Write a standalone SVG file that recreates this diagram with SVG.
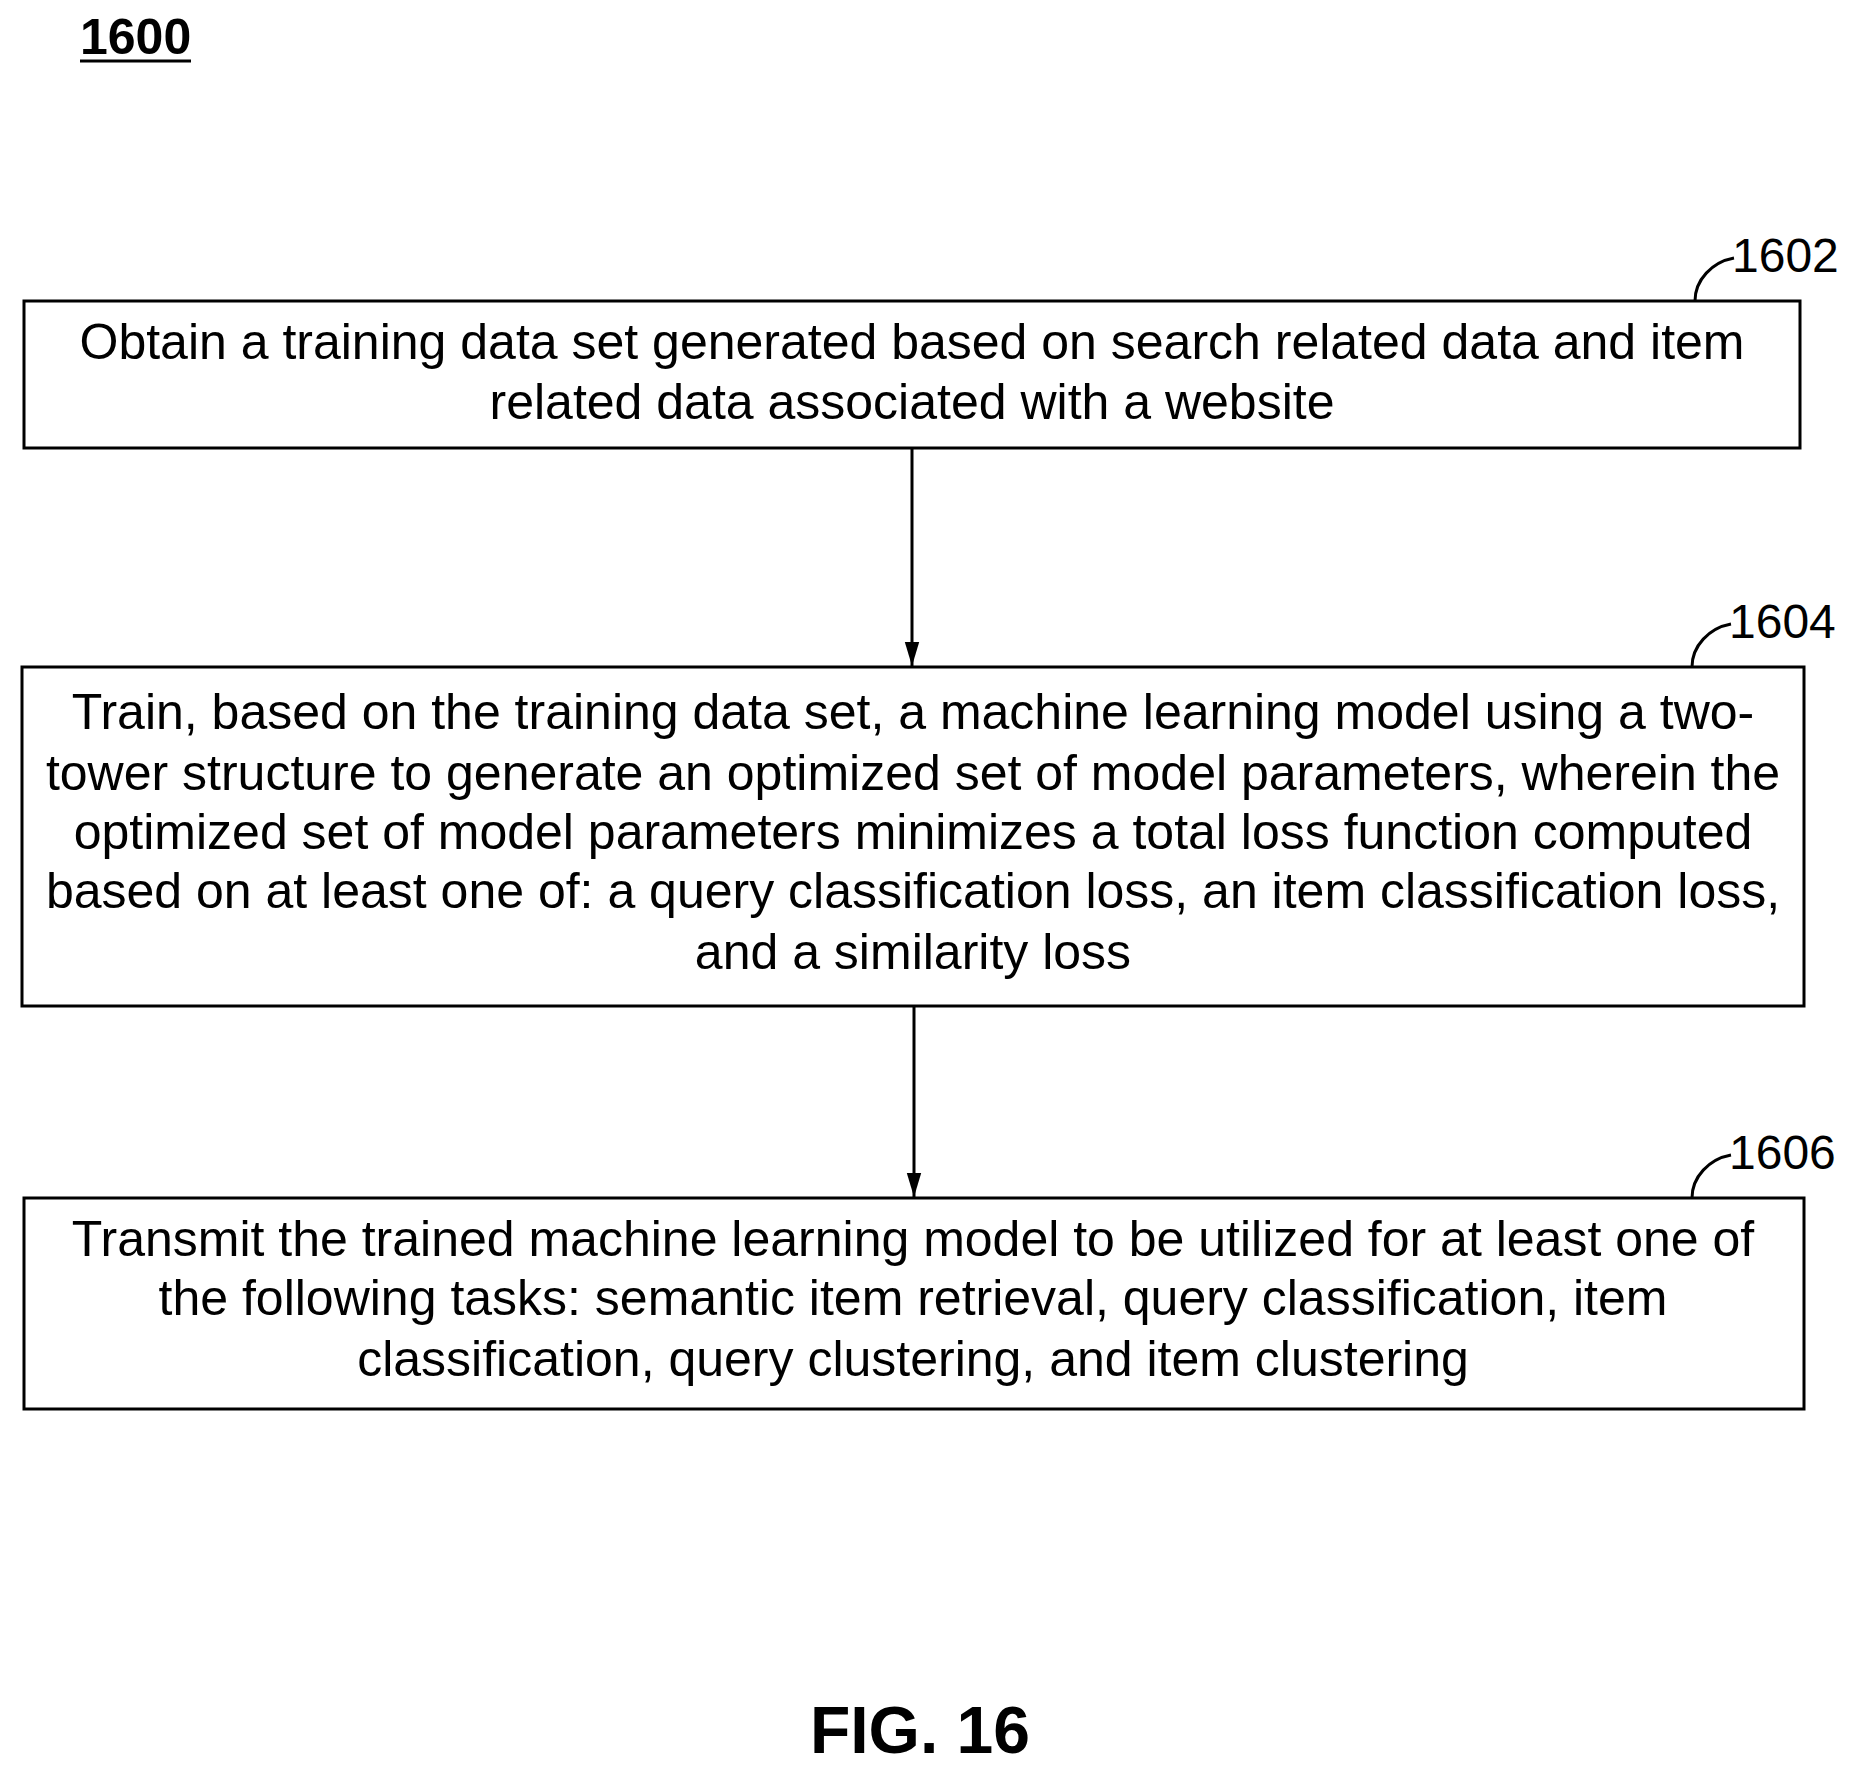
<svg xmlns="http://www.w3.org/2000/svg" width="1857" height="1772" viewBox="0 0 1857 1772">
<style>
.box{fill:#fff;stroke:#000;stroke-width:3}
.t{font-family:"Liberation Sans",Arial,sans-serif;font-size:50px;text-anchor:middle;fill:#000}
.ref{font-family:"Liberation Sans",Arial,sans-serif;font-size:48px;fill:#000}
.lead{fill:none;stroke:#000;stroke-width:3}
.conn{stroke:#000;stroke-width:3;marker-end:url(#ah)}
</style>
<defs><marker id="ah" markerWidth="24" markerHeight="40" refX="40" refY="12" orient="auto" markerUnits="userSpaceOnUse" viewBox="0 0 40 24"><path d="M0,0 L40,12 L0,24 Z" fill="#000"/></marker></defs>
<rect width="1857" height="1772" fill="#fff"/>
<text x="80" y="54" font-family="Liberation Sans,Arial,sans-serif" font-size="50" font-weight="bold">1600</text>
<line x1="80" y1="61" x2="191" y2="61" stroke="#000" stroke-width="3"/>
<g id="n1602">
<rect class="box" x="24" y="301" width="1776" height="147"/>
<text class="t" x="912" y="359">Obtain a training data set generated based on search related data and item</text>
<text class="t" x="912" y="419">related data associated with a website</text>
<path class="lead" d="M1695,301 C1695,280 1712,262 1734,258"/>
<text class="ref" x="1732" y="272">1602</text>
</g>
<g id="n1604">
<rect class="box" x="22" y="667" width="1782" height="339"/>
<text class="t" x="913" y="729">Train, based on the training data set, a machine learning model using a two-</text>
<text class="t" x="913" y="790">tower structure to generate an optimized set of model parameters, wherein the</text>
<text class="t" x="913" y="849">optimized set of model parameters minimizes a total loss function computed</text>
<text class="t" x="913" y="908">based on at least one of: a query classification loss, an item classification loss,</text>
<text class="t" x="913" y="969">and a similarity loss</text>
<path class="lead" d="M1692,667 C1692,646 1709,628 1731,624"/>
<text class="ref" x="1729" y="638">1604</text>
</g>
<g id="n1606">
<rect class="box" x="24" y="1198" width="1780" height="211"/>
<text class="t" x="913" y="1256">Transmit the trained machine learning model to be utilized for at least one of</text>
<text class="t" x="913" y="1315">the following tasks: semantic item retrieval, query classification, item</text>
<text class="t" x="913" y="1376">classification, query clustering, and item clustering</text>
<path class="lead" d="M1692,1198 C1692,1177 1709,1159 1731,1155"/>
<text class="ref" x="1729" y="1169">1606</text>
</g>
<g id="connectors">
<line class="conn" x1="912" y1="448" x2="912" y2="666"/>
<line class="conn" x1="914" y1="1006" x2="914" y2="1197"/>
</g>
<text x="920" y="1753" font-family="Liberation Sans,Arial,sans-serif" font-size="66" font-weight="bold" text-anchor="middle">FIG. 16</text>
</svg>
